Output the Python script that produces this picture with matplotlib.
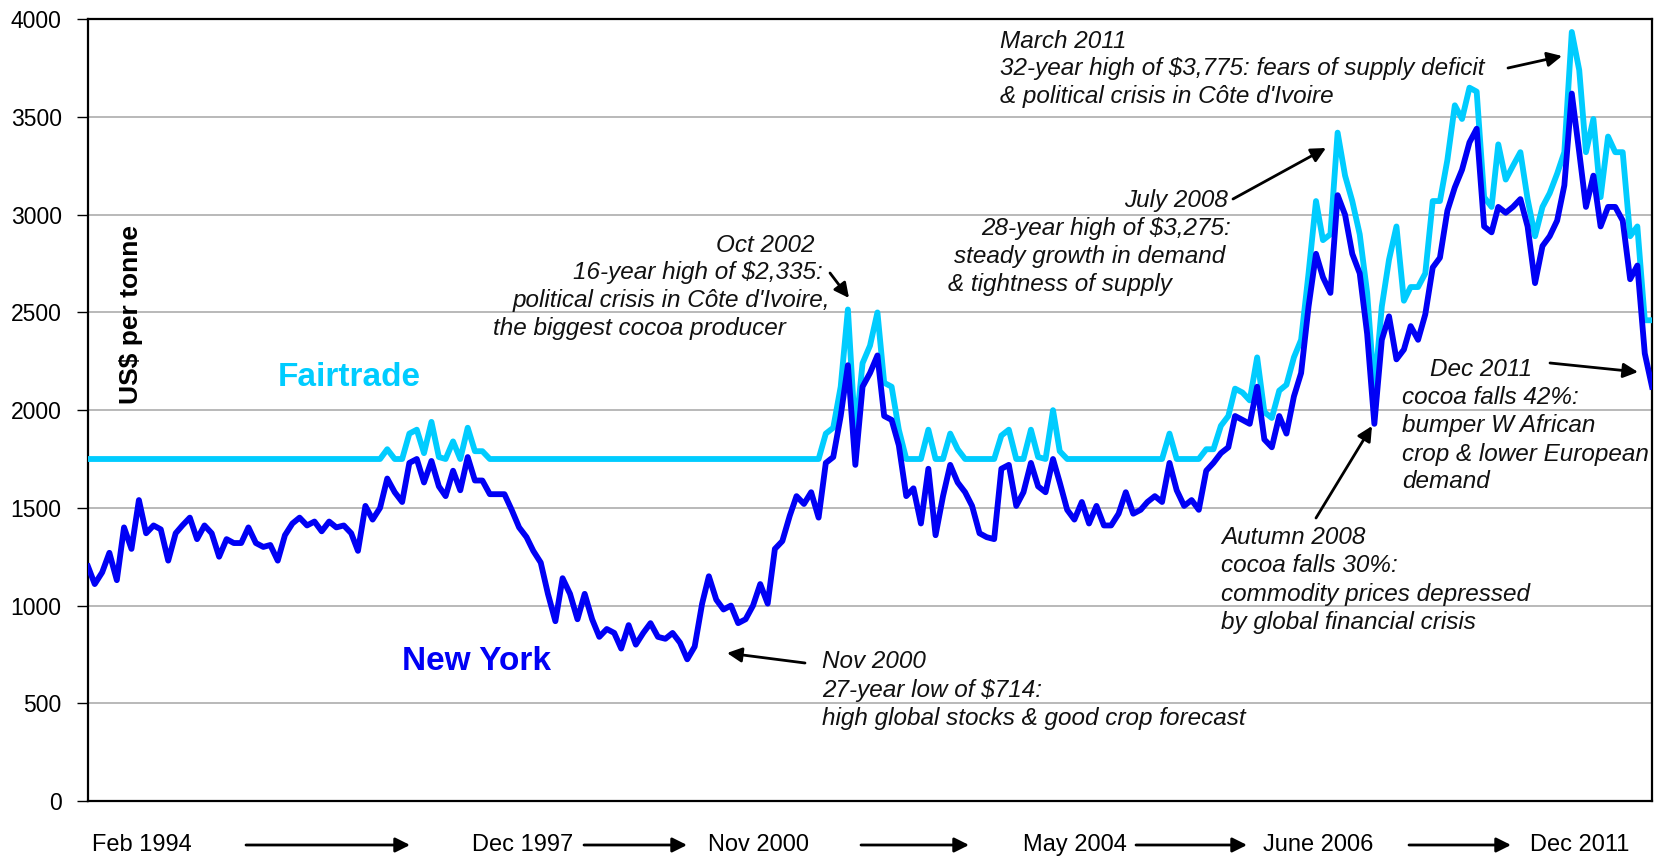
import matplotlib
matplotlib.use("Agg")
import matplotlib.pyplot as plt
import pandas as pd

plt.rcParams['font.family'] = ['Liberation Sans', 'DejaVu Sans']

# Monthly cocoa prices, Feb 1994 .. Dec 2011 (US$ per tonne)
new_york = [
    1200, 1110, 1170, 1270, 1130, 1400, 1290, 1540, 1370, 1410,
    1390, 1230, 1370, 1410, 1450, 1340, 1410, 1370, 1250, 1340,
    1320, 1320, 1400, 1320, 1300, 1310, 1230, 1360, 1420, 1450,
    1410, 1430, 1380, 1430, 1400, 1410, 1370, 1280, 1510, 1440,
    1500, 1650, 1580, 1530, 1730, 1750, 1630, 1740, 1610, 1560,
    1690, 1590, 1760, 1640, 1640, 1570, 1570, 1570, 1490, 1400,
    1350, 1280, 1220, 1060, 920, 1140, 1060, 930, 1060, 930,
    840, 880, 860, 780, 900, 800, 860, 910, 840, 830,
    860, 810, 725, 790, 1010, 1150, 1030, 980, 1000, 910,
    930, 1000, 1110, 1010, 1290, 1330, 1460, 1560, 1520, 1580,
    1450, 1730, 1760, 1970, 2230, 1720, 2120, 2190, 2280, 1970,
    1950, 1820, 1560, 1600, 1420, 1700, 1360, 1560, 1720, 1630,
    1580, 1510, 1370, 1350, 1340, 1700, 1720, 1510, 1580, 1730,
    1610, 1580, 1750, 1630, 1490, 1440, 1530, 1420, 1510, 1410,
    1410, 1470, 1580, 1470, 1490, 1530, 1560, 1530, 1730, 1590,
    1510, 1540, 1490, 1690, 1730, 1780, 1810, 1970, 1950, 1930,
    2120, 1850, 1810, 1970, 1880, 2070, 2190, 2530, 2800, 2680,
    2600, 3100, 3000, 2800, 2700, 2390, 1930, 2360, 2480, 2260,
    2310, 2430, 2360, 2490, 2730, 2780, 3020, 3140, 3230, 3370,
    3440, 2940, 2910, 3040, 3010, 3040, 3080, 2940, 2650, 2840,
    2890, 2970, 3150, 3620, 3320, 3040, 3200, 2940, 3040, 3040,
    2970, 2670, 2740, 2290, 2120,
]

fairtrade = [
    1750, 1750, 1750, 1750, 1750, 1750, 1750, 1750, 1750, 1750,
    1750, 1750, 1750, 1750, 1750, 1750, 1750, 1750, 1750, 1750,
    1750, 1750, 1750, 1750, 1750, 1750, 1750, 1750, 1750, 1750,
    1750, 1750, 1750, 1750, 1750, 1750, 1750, 1750, 1750, 1750,
    1750, 1800, 1750, 1750, 1880, 1900, 1780, 1940, 1760, 1750,
    1840, 1750, 1910, 1790, 1790, 1750, 1750, 1750, 1750, 1750,
    1750, 1750, 1750, 1750, 1750, 1750, 1750, 1750, 1750, 1750,
    1750, 1750, 1750, 1750, 1750, 1750, 1750, 1750, 1750, 1750,
    1750, 1750, 1750, 1750, 1750, 1750, 1750, 1750, 1750, 1750,
    1750, 1750, 1750, 1750, 1750, 1750, 1750, 1750, 1750, 1750,
    1750, 1880, 1910, 2120, 2515, 1870, 2240, 2330, 2500, 2140,
    2120, 1900, 1750, 1750, 1750, 1900, 1750, 1750, 1880, 1800,
    1750, 1750, 1750, 1750, 1750, 1870, 1900, 1750, 1750, 1900,
    1760, 1750, 2000, 1790, 1750, 1750, 1750, 1750, 1750, 1750,
    1750, 1750, 1750, 1750, 1750, 1750, 1750, 1750, 1880, 1750,
    1750, 1750, 1750, 1800, 1800, 1920, 1970, 2110, 2090, 2050,
    2270, 1990, 1960, 2100, 2130, 2270, 2360, 2700, 3070, 2870,
    2900, 3420, 3200, 3070, 2900, 2600, 2100, 2530, 2770, 2940,
    2560, 2630, 2630, 2700, 3070, 3070, 3280, 3560, 3490, 3650,
    3630, 3090, 3040, 3360, 3180, 3250, 3320, 3080, 2890, 3040,
    3110, 3210, 3320, 3935, 3740, 3320, 3490, 3090, 3400, 3320,
    3320, 2890, 2940, 2460, 2460,
]

months = pd.date_range('1994-02-01', periods=len(new_york), freq='MS')

period_labels = ['Feb 1994', 'Dec 1997', 'Nov 2000', 'May 2004', 'June 2006', 'Dec 2011']

W, H = 1657, 861
CYAN = '#00CCFF'
BLUE = '#0000F5'


def fp(x, y):
    # full-size pixel position (from top-left) -> figure fraction
    return x / W, 1 - y / H


fig = plt.figure(figsize=(W / 100, H / 100), dpi=100)
ax = fig.add_axes([88 / W, 1 - 801 / H, 1564 / W, 781.7 / H])

ax.plot(months, fairtrade, color=CYAN, lw=4.2, solid_joinstyle='round', zorder=3)
ax.plot(months, new_york, color=BLUE, lw=4.2, solid_joinstyle='round', zorder=4)

ax.set_xlim(months[0], months[-1])
ax.set_ylim(0, 4000)
ax.set_yticks(range(0, 4001, 500))
ax.set_xticks([])
ax.grid(axis='y', color='#a6a6a6', lw=1.1, zorder=1)
ax.tick_params(axis='y', length=8, width=1, pad=11, labelsize=16.5, direction='out')
for s in ax.spines.values():
    s.set_linewidth(1.6)
    s.set_color('black')

# series labels
fig.text(*fp(349, 378), 'Fairtrade', color=CYAN, fontsize=24, fontweight='bold', ha='center', va='center')
fig.text(*fp(477, 662), 'New York', color=BLUE, fontsize=24, fontweight='bold', ha='center', va='center')
fig.text(*fp(131, 315), 'US$ per tonne', fontsize=19, fontweight='bold', rotation=90, ha='center', va='center')

note = dict(fontsize=17.5, style='italic', color='#111111', va='center')
arrow = dict(arrowstyle='-|>', color='black', lw=2, mutation_scale=22, shrinkA=0, shrinkB=0)


def block(lines, xs, ys, ha):
    for t, x, y in zip(lines, xs, ys):
        fig.text(*fp(x, y), t, ha=ha, **note)


def pointer(tail, head):
    fig.add_artist(plt.matplotlib.patches.FancyArrowPatch(
        fp(*tail), fp(*head), transform=fig.transFigure, **arrow))


block(['Oct 2002', '16-year high of $2,335:', "political crisis in Côte d'Ivoire,",
       'the biggest cocoa producer'],
      [765, 698, 671, 639], [245, 273, 301, 329], 'center')
pointer((830, 273), (849, 298))

block(['July 2008', '28-year high of $3,275:', 'steady growth in demand', '& tightness of supply'],
      [1176, 1106, 1090, 1060], [201, 228, 257, 285], 'center')
pointer((1233, 199), (1326, 148))

block(['March 2011', '32-year high of $3,775: fears of supply deficit',
       "& political crisis in Côte d'Ivoire"],
      [1000, 1000, 1000], [41, 69, 97], 'left')
pointer((1508, 68), (1562, 56))

block(['Dec 2011', 'cocoa falls 42%:', 'bumper W African', 'crop & lower European', 'demand'],
      [1430, 1402, 1402, 1402, 1402], [369, 397, 426, 454, 482], 'left')
pointer((1550, 363), (1638, 372))

block(['Autumn 2008', 'cocoa falls 30%:', 'commodity prices depressed', 'by global financial crisis'],
      [1221, 1221, 1221, 1221], [538, 566, 594, 622], 'left')
pointer((1316, 518), (1372, 426))

block(['Nov 2000', '27-year low of $714:', 'high global stocks & good crop forecast'],
      [822, 822, 822], [662, 691, 718], 'left')
pointer((805, 663), (727, 653))

# period labels under the axis
label_x = [92, 472, 708, 1023, 1263, 1530]
for t, x in zip(period_labels, label_x):
    fig.text(*fp(x, 845), t, fontsize=17, ha='left', va='center')
for x0, x1 in [(246, 410), (584, 687), (861, 969), (1136, 1247), (1409, 1511)]:
    pointer((x0, 845), (x1, 845))

fig.savefig('out.png', dpi=100)
